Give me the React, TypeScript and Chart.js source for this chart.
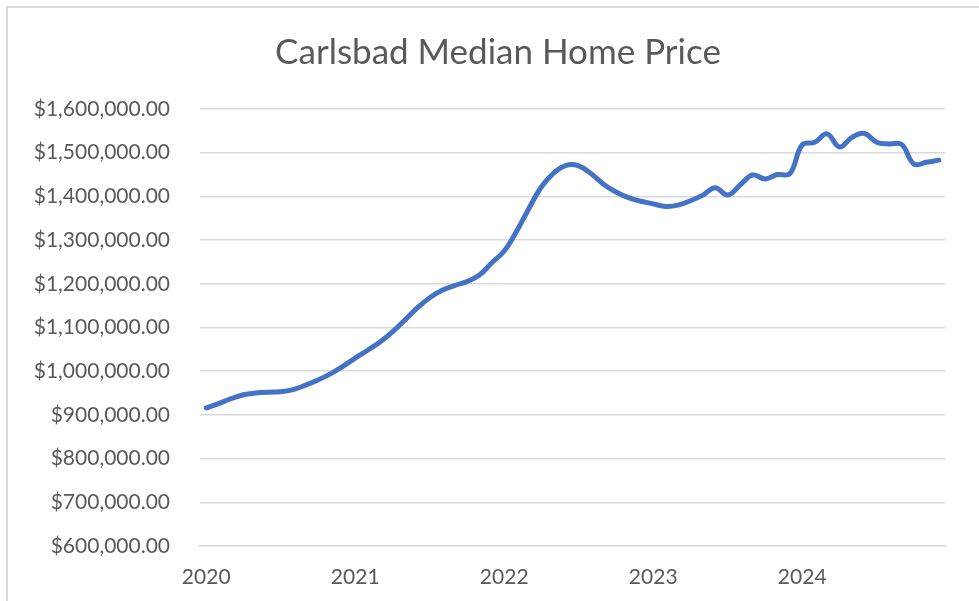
import React, { useEffect, useRef } from "react";
import { Chart, registerables } from "chart.js";

Chart.register(...registerables);

const TITLE = "Carlsbad Median Home Price";
const years = ["2020", "2021", "2022", "2023", "2024"];
const monthNames = ["Jan", "Feb", "Mar", "Apr", "May", "Jun", "Jul", "Aug", "Sep", "Oct", "Nov", "Dec"];

const prices2020 = [916000, 926000, 937000, 946000, 950000, 952000, 953000, 958000, 968000, 980000, 994000, 1011000];
const prices2021 = [1030000, 1048000, 1067000, 1090000, 1117000, 1145000, 1168000, 1185000, 1196000, 1205000, 1220000, 1248000];
const prices2022 = [1275000, 1320000, 1373000, 1422000, 1454000, 1471000, 1470000, 1452000, 1428000, 1410000, 1397000, 1389000];
const prices2023 = [1383000, 1377000, 1380000, 1390000, 1403000, 1420000, 1403000, 1426000, 1449000, 1440000, 1450000, 1452000];
const prices2024 = [1518000, 1524000, 1543000, 1513000, 1535000, 1544000, 1524000, 1520000, 1519000, 1474000, 1478000, 1483000];

const yMin = 600000;
const yMax = 1600000;
const yStep = 100000;

const categories: string[] = [];
years.forEach((y) => monthNames.forEach((m) => categories.push(`${m} ${y}`)));
const values = [...prices2020, ...prices2021, ...prices2022, ...prices2023, ...prices2024];

const FONT = "Lato, 'Open Sans', sans-serif";
const TEXT = "#595959";
const GRID = "#d9d9d9";

const titlePlugin = {
  id: "customTitle",
  afterDraw(chart: any) {
    const ctx = chart.ctx;
    ctx.save();
    ctx.font = `35px ${FONT}`;
    ctx.fillStyle = TEXT;
    ctx.textAlign = "center";
    ctx.textBaseline = "middle";
    ctx.fillText(TITLE, 498, 53);
    ctx.restore();
  },
};

export default function App() {
  const ref = useRef<HTMLCanvasElement | null>(null);
  useEffect(() => {
    if (!ref.current) return;
    const chart = new Chart(ref.current, {
      type: "line",
      data: {
        labels: categories,
        datasets: [
          {
            data: values,
            borderColor: "#4472C4",
            borderWidth: 5,
            tension: 0.4,
            pointRadius: 0,
            borderCapStyle: "round",
            borderJoinStyle: "round",
            fill: false,
          },
        ],
      },
      options: {
        animation: false,
        responsive: false,
        maintainAspectRatio: false,
        layout: { padding: { top: 109, right: 34, bottom: 11, left: 0 } },
        plugins: {
          legend: { display: false },
          title: { display: false },
          tooltip: { enabled: false },
        },
        scales: {
          x: {
            offset: true,
            grid: { display: false, drawTicks: false },
            border: { display: true, color: GRID, width: 1.5 },
            afterFit: (scale: any) => {
              scale.height = 44;
            },
            ticks: {
              autoSkip: false,
              maxRotation: 0,
              padding: 19,
              color: TEXT,
              font: { family: FONT, size: 21 },
              callback: (_v: any, i: number) => (i % 12 === 0 ? years[i / 12] : ""),
            },
          },
          y: {
            min: yMin,
            max: yMax,
            grid: { color: GRID, lineWidth: 1.5, drawTicks: false },
            border: { display: false },
            afterFit: (scale: any) => {
              scale.width = 200;
            },
            ticks: {
              stepSize: yStep,
              padding: 30,
              color: TEXT,
              font: { family: FONT, size: 21 },
              callback: (v: any) =>
                "$" + Number(v).toLocaleString("en-US", { minimumFractionDigits: 2, maximumFractionDigits: 2 }),
            },
          },
        },
      },
      plugins: [titlePlugin],
    });
    return () => chart.destroy();
  }, []);
  return (
    <div style={{ position: "fixed", left: 0, top: 0, width: 979, height: 601, background: "#fff" }}>
      <canvas ref={ref} width={979} height={601} style={{ position: "absolute", left: 0, top: 0 }} />
      <div
        style={{
          position: "absolute",
          left: 6,
          top: 6,
          width: 979,
          height: 601,
          borderTop: `2px solid ${GRID}`,
          borderLeft: `2px solid ${GRID}`,
          pointerEvents: "none",
        }}
      />
    </div>
  );
}
